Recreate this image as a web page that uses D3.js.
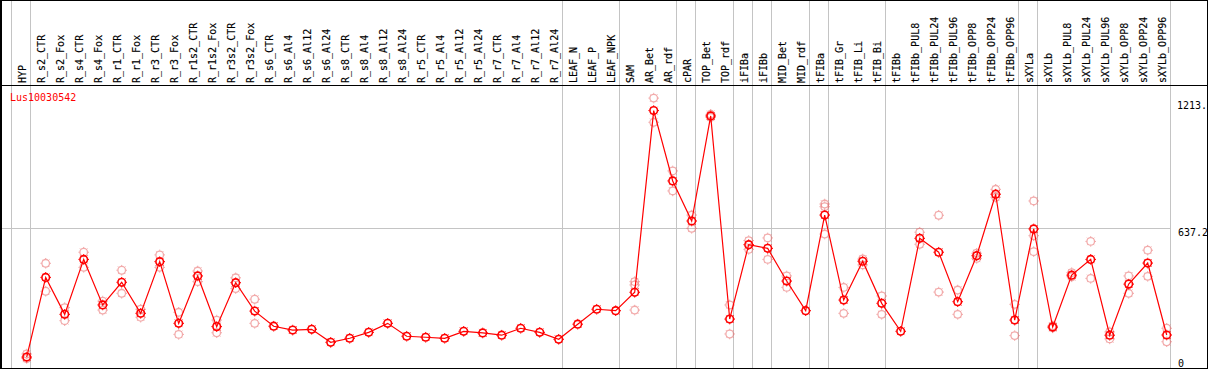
<!DOCTYPE html>
<html><head><meta charset="utf-8">
<script src="https://cdn.jsdelivr.net/npm/d3@7"></script>
<style>html,body{margin:0;padding:0;background:#fff;}svg{display:block;}</style>
</head><body>
<script>
const categories = ["HYP","R_s2_CTR","R_s2_Fox","R_s4_CTR","R_s4_Fox","R_r1_CTR","R_r1_Fox","R_r3_CTR","R_r3_Fox","R_r1s2_CTR","R_r1s2_Fox","R_r3s2_CTR","R_r3s2_Fox","R_s6_CTR","R_s6_Al4","R_s6_Al12","R_s6_Al24","R_s8_CTR","R_s8_Al4","R_s8_Al12","R_s8_Al24","R_r5_CTR","R_r5_Al4","R_r5_Al12","R_r5_Al24","R_r7_CTR","R_r7_Al4","R_r7_Al12","R_r7_Al24","LEAF_N","LEAF_P","LEAF_NPK","SAM","AR_Bet","AR_rdf","cPAR","TOP_Bet","TOP_rdf","iFIBa","iFIBb","MID_Bet","MID_rdf","tFIBa","tFIB_Gr","tFIB_Li","tFIB_Bi","tFIBb","tFIBb_PUL8","tFIBb_PUL24","tFIBb_PUL96","tFIBb_OPP8","tFIBb_OPP24","tFIBb_OPP96","sXYLa","sXYLb","sXYLb_PUL8","sXYLb_PUL24","sXYLb_PUL96","sXYLb_OPP8","sXYLb_OPP24","sXYLb_OPP96"];

const means = [7,397,216,485,262,373,221,474,172,404,156,371,232,158,139,143,79,99,128,172,109,104,99,133,125,114,148,128,94,168,241,234,324,1213.4,869,673,1187,193,557,539,379,234,702,286,476,270,133,588,520,278,503,804,188,634,154,408,485,114,364,467,115];

const replicates = [[22,0],[466,329],[249,185],[520,446],[281,237],[432,319],[241,202],[507,446],[226,118],[428,376],[188,126],[395,342],[290,172],[],[],[],[],[],[],[],[],[],[],[],[],[],[],[],[],[],[],[],[376,360,237],[1274.4,1156],[918,820],[702,637],[1195,1180],[262,120],[577,534],[590,485],[404,348],[],[756,743,609],[348,221],[487,458],[306,216],[],[618,559],[701,325],[335,216],[515,490],[828,789],[265,112],[771,601,523],[160,150],[420,400],[573,392],[130,96],[404,319],[530,402],[148,82]];

const groupStarts = ["HYP","R_s2_CTR","LEAF_N","SAM","cPAR","TOP_Bet","iFIBa","iFIBb","MID_Bet","tFIBa","tFIB_Gr","tFIBb","sXYLa","sXYLb"];
const yMax = 1274.4;
const yTicks = [0, 637.2];
const yMaxValue = 1213.4;
const yMaxLabel = "1213.";
const geneName = "Lus10030542";

const W = 1209, H = 370;
const svg = d3.select("body").append("svg").attr("width", W).attr("height", H);

const x = d3.scaleBand().domain(categories).range([11.5, 1170.5]).padding(0);
const px = c => x(c) + 15.2;
const y = d3.scaleLinear().domain([0, yMax]).range([358.5, 98.1]);

const font = "'DejaVu Sans Mono', monospace";

// group separators
const sepX = groupStarts.map(c => x(c)).concat([x.range()[1]]);
svg.append("g").selectAll("line").data(sepX).join("line")
  .attr("x1", d => d).attr("x2", d => d).attr("y1", 0).attr("y2", 368)
  .attr("stroke", "#c4c4c4").attr("stroke-width", 1);

// midline grid
svg.append("line").attr("x1", 1).attr("x2", 1170.5)
  .attr("y1", Math.floor(y(637.2)) + 0.5).attr("y2", Math.floor(y(637.2)) + 0.5)
  .attr("stroke", "#c4c4c4").attr("stroke-width", 1);

// frame
svg.append("rect").attr("x", 0.5).attr("y", 0.5).attr("width", 1207).attr("height", 368)
  .attr("fill", "none").attr("stroke", "#000").attr("stroke-width", 1);
svg.append("line").attr("x1", 1.5).attr("x2", 1.5).attr("y1", 0).attr("y2", 369).attr("stroke", "#000");
svg.append("line").attr("x1", 0).attr("x2", 1208).attr("y1", 85.5).attr("y2", 85.5).attr("stroke", "#000");

// category labels
svg.append("g").selectAll("text").data(categories).join("text")
  .attr("transform", c => `translate(${Math.round(px(c)) - 0.6},83) rotate(-90)`)
  .attr("font-family", font).attr("font-size", 10).attr("fill", "#000")
  .attr("stroke", "#000").attr("stroke-width", 0.15)
  .text(c => c);

// y labels
const yl = svg.append("g")
  .attr("font-family", font).attr("font-size", 10).attr("fill", "#000");
yl.selectAll("text.t").data(yTicks).join("text").attr("class", "t")
  .attr("x", 1178).attr("y", d => y(d) + 8).text(d => d === 0 ? "0" : d3.format(".1f")(d));
yl.append("text").attr("x", 1177).attr("y", y(yMaxValue) - 1.5).text(yMaxLabel);

// gene name
svg.append("text").attr("x", 10).attr("y", 101).attr("font-family", font)
  .attr("font-size", 10).attr("fill", "#ff0000").text(geneName);

function sun(g, cx, cy, color, sw) {
  g.append("circle").attr("cx", cx).attr("cy", cy).attr("r", 3.8)
    .attr("fill", "none").attr("stroke", color).attr("stroke-width", sw);
  for (let k = 0; k < 8; k++) {
    const a = k * Math.PI / 4;
    g.append("line")
      .attr("x1", cx + Math.cos(a) * 4.3).attr("y1", cy + Math.sin(a) * 4.3)
      .attr("x2", cx + Math.cos(a) * 5.3).attr("y2", cy + Math.sin(a) * 5.3)
      .attr("stroke", color).attr("stroke-width", 1);
  }
}

// replicates
const rg = svg.append("g");
categories.forEach((c, i) => {
  replicates[i].forEach(v => sun(rg, px(c), y(v), "rgba(232,100,100,0.55)", 1.3));
});

// mean line
const line = d3.line().x((d, i) => px(categories[i])).y(d => y(d));
svg.append("path").datum(means).attr("d", line)
  .attr("fill", "none").attr("stroke", "#ff0000").attr("stroke-width", 1.2);

const mg = svg.append("g");
categories.forEach((c, i) => sun(mg, px(c), y(means[i]), "#ff0000", 1.6));
</script>
</body></html>
